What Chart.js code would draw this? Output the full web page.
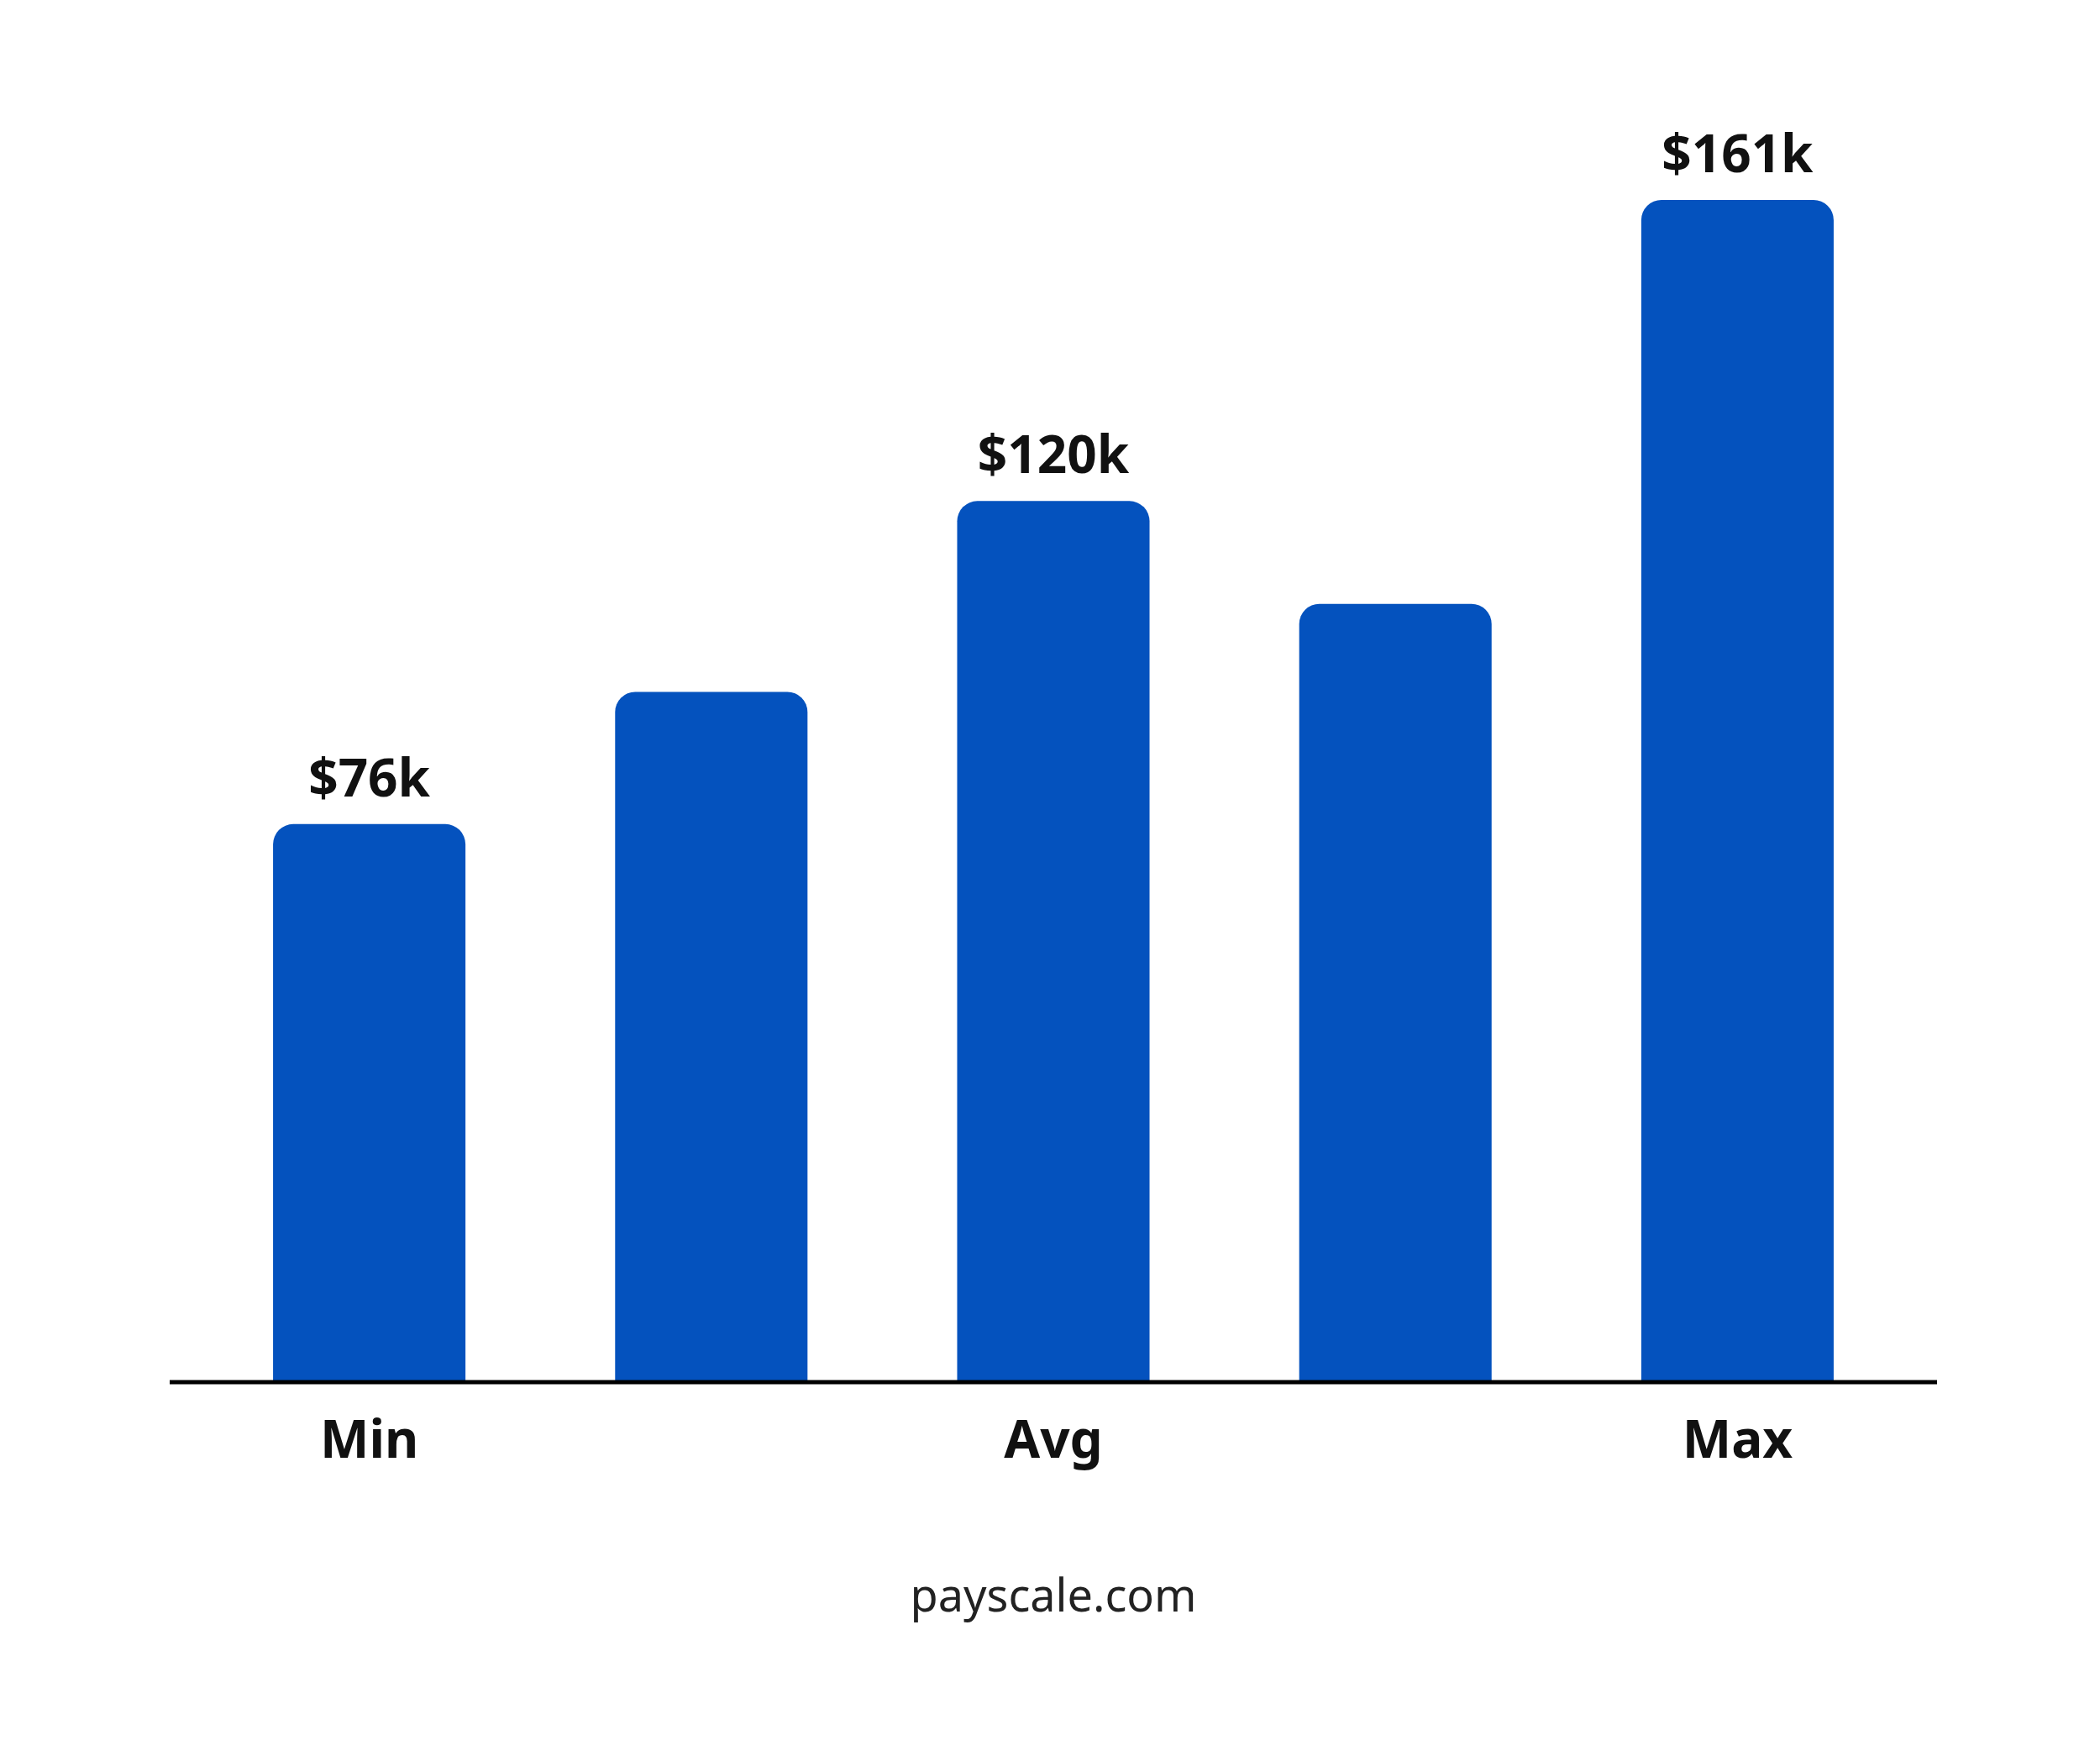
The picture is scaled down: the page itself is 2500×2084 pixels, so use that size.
<!DOCTYPE html>
<html>
<head>
<meta charset="utf-8">
<script src="https://cdn.jsdelivr.net/npm/chart.js@4"></script>
<style>
  body { margin: 0; background: #fff; }
  canvas { display: block; }
</style>
</head>
<body>
<canvas id="payChart" width="2500" height="2084" style="width:2500px;height:2084px"></canvas>
<script>
// Chart data
const categories = ['Min', '', 'Avg', '', 'Max'];
const salaries = [76, 94, 120, 106, 161];
const valueLabels = ['$76k', '', '$120k', '', '$161k'];
const footerText = 'payscale.com';

const FONT = '"Noto Sans", sans-serif';

// Draws value labels, category labels, baseline and footer
const decorations = {
    id: 'decorations',
    afterDatasetsDraw(chart) {
        const { ctx, chartArea } = chart;
        const meta = chart.getDatasetMeta(0);
        ctx.save();
        ctx.fillStyle = '#111';
        ctx.textAlign = 'center';
        ctx.font = 'bold 62px ' + FONT;
        meta.data.forEach((bar, i) => {
            if (valueLabels[i]) {
                ctx.textBaseline = 'bottom';
                ctx.fillText(valueLabels[i], bar.x, bar.y - 20);
            }
            if (categories[i]) {
                ctx.textBaseline = 'middle';
                ctx.fillText(categories[i], bar.x, chartArea.bottom + 72);
            }
        });
        // baseline
        ctx.strokeStyle = '#000';
        ctx.lineWidth = 5;
        ctx.beginPath();
        ctx.moveTo(chartArea.left - 34, chartArea.bottom);
        ctx.lineTo(chartArea.right + 34, chartArea.bottom);
        ctx.stroke();
        // footer
        ctx.fillStyle = '#222';
        ctx.font = '54px ' + FONT;
        ctx.textBaseline = 'middle';
        ctx.fillText(footerText, (chartArea.left + chartArea.right) / 2, chartArea.bottom + 258);
        ctx.restore();
    }
};

new Chart(document.getElementById('payChart').getContext('2d'), {
    type: 'bar',
    data: {
        labels: categories,
        datasets: [{
            data: salaries,
            backgroundColor: '#0452BE',
            borderRadius: { topLeft: 24, topRight: 24 },
            borderSkipped: 'bottom',
            categoryPercentage: 1,
            barPercentage: 0.5625
        }]
    },
    options: {
        responsive: false,
        animation: false,
        devicePixelRatio: 1,
        layout: { padding: { left: 236, right: 228, top: 72, bottom: 439 } },
        plugins: { legend: { display: false }, tooltip: { enabled: false } },
        scales: {
            x: { display: false },
            y: { display: false, min: 0, max: 180 }
        }
    },
    plugins: [decorations]
});
</script>
</body>
</html>
